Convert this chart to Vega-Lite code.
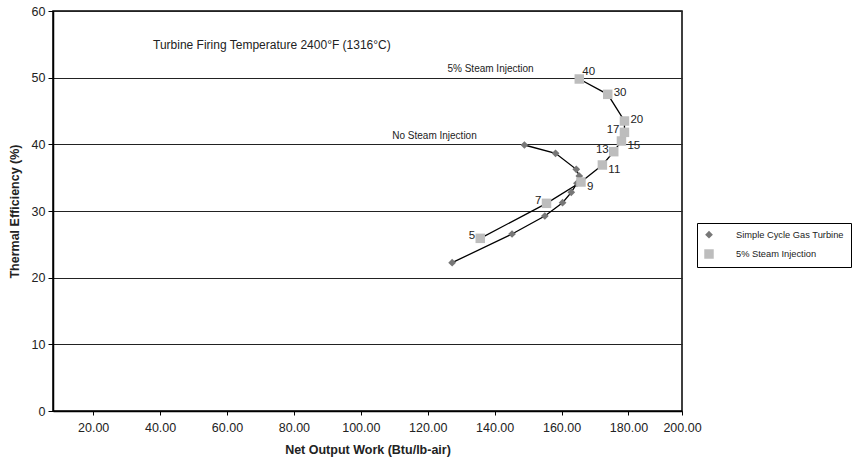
{
  "$schema": "https://vega.github.io/schema/vega-lite/v6.json",
  "width": 629,
  "height": 400,
  "autosize": "none",
  "padding": {"left": 53, "top": 11, "right": 180, "bottom": 55},
  "background": "white",
  "config": {
    "font": "Liberation Sans",
    "view": {"stroke": "black", "strokeWidth": 1.5},
    "axis": {"labelFont": "Liberation Sans", "titleFont": "Liberation Sans", "labelColor": "#222", "titleColor": "#222", "domainColor": "black", "tickColor": "black", "domainWidth": 1.5, "tickWidth": 1, "labelFlush": false}
  },
  "datasets": {
    "pts": [
      {"series": "Simple Cycle Gas Turbine", "ratio": 5, "work": 127.3, "eff": 22.25},
      {"series": "Simple Cycle Gas Turbine", "ratio": 7, "work": 145.2, "eff": 26.55},
      {"series": "Simple Cycle Gas Turbine", "ratio": 9, "work": 155.0, "eff": 29.25},
      {"series": "Simple Cycle Gas Turbine", "ratio": 11, "work": 160.3, "eff": 31.25},
      {"series": "Simple Cycle Gas Turbine", "ratio": 13, "work": 162.9, "eff": 32.8},
      {"series": "Simple Cycle Gas Turbine", "ratio": 15, "work": 164.6, "eff": 34.15},
      {"series": "Simple Cycle Gas Turbine", "ratio": 17, "work": 165.3, "eff": 35.25},
      {"series": "Simple Cycle Gas Turbine", "ratio": 20, "work": 164.4, "eff": 36.25},
      {"series": "Simple Cycle Gas Turbine", "ratio": 30, "work": 158.2, "eff": 38.65},
      {"series": "Simple Cycle Gas Turbine", "ratio": 40, "work": 148.9, "eff": 39.9},
      {"series": "5% Steam Injection", "ratio": 5, "work": 135.7, "eff": 25.9},
      {"series": "5% Steam Injection", "ratio": 7, "work": 155.5, "eff": 31.15},
      {"series": "5% Steam Injection", "ratio": 9, "work": 165.8, "eff": 34.35},
      {"series": "5% Steam Injection", "ratio": 11, "work": 172.2, "eff": 36.9},
      {"series": "5% Steam Injection", "ratio": 13, "work": 175.6, "eff": 38.9},
      {"series": "5% Steam Injection", "ratio": 15, "work": 177.9, "eff": 40.5},
      {"series": "5% Steam Injection", "ratio": 17, "work": 178.8, "eff": 41.8},
      {"series": "5% Steam Injection", "ratio": 20, "work": 178.8, "eff": 43.5},
      {"series": "5% Steam Injection", "ratio": 30, "work": 173.8, "eff": 47.5},
      {"series": "5% Steam Injection", "ratio": 40, "work": 165.3, "eff": 49.8}
    ],
    "notes": [
      {"work": 37.9, "eff": 54.9, "text": "Turbine Firing Temperature 2400°F (1316°C)", "kind": "big"},
      {"work": 125.9, "eff": 51.3, "text": "5% Steam Injection", "kind": "small"},
      {"work": 109.4, "eff": 41.25, "text": "No Steam Injection", "kind": "small"}
    ]
  },
  "layer": [
    {
      "data": {"name": "pts"},
      "mark": {"type": "line", "strokeWidth": 1.3},
      "encoding": {
        "x": {"field": "work", "type": "quantitative", "scale": {"domain": [8, 196], "nice": false, "zero": false},
          "axis": {"title": "Net Output Work (Btu/lb-air)", "titleFontWeight": "bold", "titleFontSize": 12.5, "titlePadding": 10,
            "values": [20, 40, 60, 80, 100, 120, 140, 160, 180, 196],
            "labelExpr": "datum.value == 196 ? '200.00' : format(datum.value, '.2f')",
            "labelOverlap": false, "labelBound": false,
            "grid": false, "tickSize": 4, "labelFontSize": 12.5, "labelPadding": 6}},
        "y": {"field": "eff", "type": "quantitative", "scale": {"domain": [0, 60], "nice": false},
          "axis": {"title": "Thermal Efficiency (%)", "titleFontWeight": "bold", "titleFontSize": 12.5, "titlePadding": 10,
            "values": [0, 10, 20, 30, 40, 50, 60], "grid": true, "gridColor": "#222", "gridWidth": 1.2,
            "labelOverlap": false,
            "tickSize": 5, "labelFontSize": 12.5, "labelPadding": 3}},
        "stroke": {"field": "series", "type": "nominal",
          "scale": {"domain": ["Simple Cycle Gas Turbine", "5% Steam Injection"], "range": ["black", "black"]},
          "legend": {"title": null, "orient": "none", "legendX": 644, "legendY": 212,
            "strokeColor": "black", "padding": 7, "labelFontSize": 9.3, "labelColor": "#222", "rowPadding": 9, "labelOffset": 22,
            "symbolSize": 80, "symbolStrokeWidth": 0}},
        "order": {"field": "ratio", "type": "quantitative"}
      }
    },
    {
      "data": {"name": "pts"},
      "transform": [{"filter": "isValid(datum.eff)"}],
      "mark": {"type": "point", "filled": true, "opacity": 1},
      "encoding": {
        "x": {"field": "work", "type": "quantitative"},
        "y": {"field": "eff", "type": "quantitative"},
        "shape": {"field": "series", "type": "nominal", "scale": {"domain": ["Simple Cycle Gas Turbine", "5% Steam Injection"], "range": ["diamond", "square"]},
          "legend": {"title": null, "orient": "none", "legendX": 644, "legendY": 212,
            "strokeColor": "black", "padding": 7, "labelFontSize": 9.3, "labelColor": "#222", "rowPadding": 9, "labelOffset": 22,
            "symbolSize": 80, "symbolStrokeWidth": 0}},
        "color": {"field": "series", "type": "nominal", "scale": {"domain": ["Simple Cycle Gas Turbine", "5% Steam Injection"], "range": ["#777777", "#bdbdbd"]}},
        "size": {"field": "series", "type": "nominal", "scale": {"domain": ["Simple Cycle Gas Turbine", "5% Steam Injection"], "range": [60, 90]}, "legend": null}
      }
    },
    {
      "data": {"name": "pts"},
      "transform": [{"filter": "datum.series == '5% Steam Injection' && (datum.ratio == 30 || datum.ratio == 20)"}],
      "mark": {"type": "text", "align": "left", "baseline": "middle", "dx": 6, "dy": -1, "fontSize": 11.5, "color": "#222"},
      "encoding": {"x": {"field": "work", "type": "quantitative"}, "y": {"field": "eff", "type": "quantitative"}, "text": {"field": "ratio"}}
    },
    {
      "data": {"name": "pts"},
      "transform": [{"filter": "datum.series == '5% Steam Injection' && datum.ratio == 40"}],
      "mark": {"type": "text", "align": "left", "baseline": "middle", "dx": 3, "dy": -7, "fontSize": 11.5, "color": "#222"},
      "encoding": {"x": {"field": "work", "type": "quantitative"}, "y": {"field": "eff", "type": "quantitative"}, "text": {"field": "ratio"}}
    },
    {
      "data": {"name": "pts"},
      "transform": [{"filter": "datum.series == '5% Steam Injection' && (datum.ratio == 15 || datum.ratio == 11 || datum.ratio == 9)"}],
      "mark": {"type": "text", "align": "left", "baseline": "middle", "dx": 6, "dy": 5, "fontSize": 11.5, "color": "#222"},
      "encoding": {"x": {"field": "work", "type": "quantitative"}, "y": {"field": "eff", "type": "quantitative"}, "text": {"field": "ratio"}}
    },
    {
      "data": {"name": "pts"},
      "transform": [{"filter": "datum.series == '5% Steam Injection' && (datum.ratio == 17 || datum.ratio == 13 || datum.ratio == 7 || datum.ratio == 5)"}],
      "mark": {"type": "text", "align": "right", "baseline": "middle", "dx": -5, "dy": -2, "fontSize": 11.5, "color": "#222"},
      "encoding": {"x": {"field": "work", "type": "quantitative"}, "y": {"field": "eff", "type": "quantitative"}, "text": {"field": "ratio"}}
    },
    {
      "data": {"name": "notes"},
      "transform": [{"filter": "datum.kind == 'big'"}],
      "mark": {"type": "text", "align": "left", "baseline": "middle", "color": "#222", "fontSize": 12},
      "encoding": {"x": {"field": "work", "type": "quantitative"}, "y": {"field": "eff", "type": "quantitative"}, "text": {"field": "text"}}
    },
    {
      "data": {"name": "notes"},
      "transform": [{"filter": "datum.kind == 'small'"}],
      "mark": {"type": "text", "align": "left", "baseline": "middle", "color": "#222", "fontSize": 10},
      "encoding": {"x": {"field": "work", "type": "quantitative"}, "y": {"field": "eff", "type": "quantitative"}, "text": {"field": "text"}}
    }
  ]
}
